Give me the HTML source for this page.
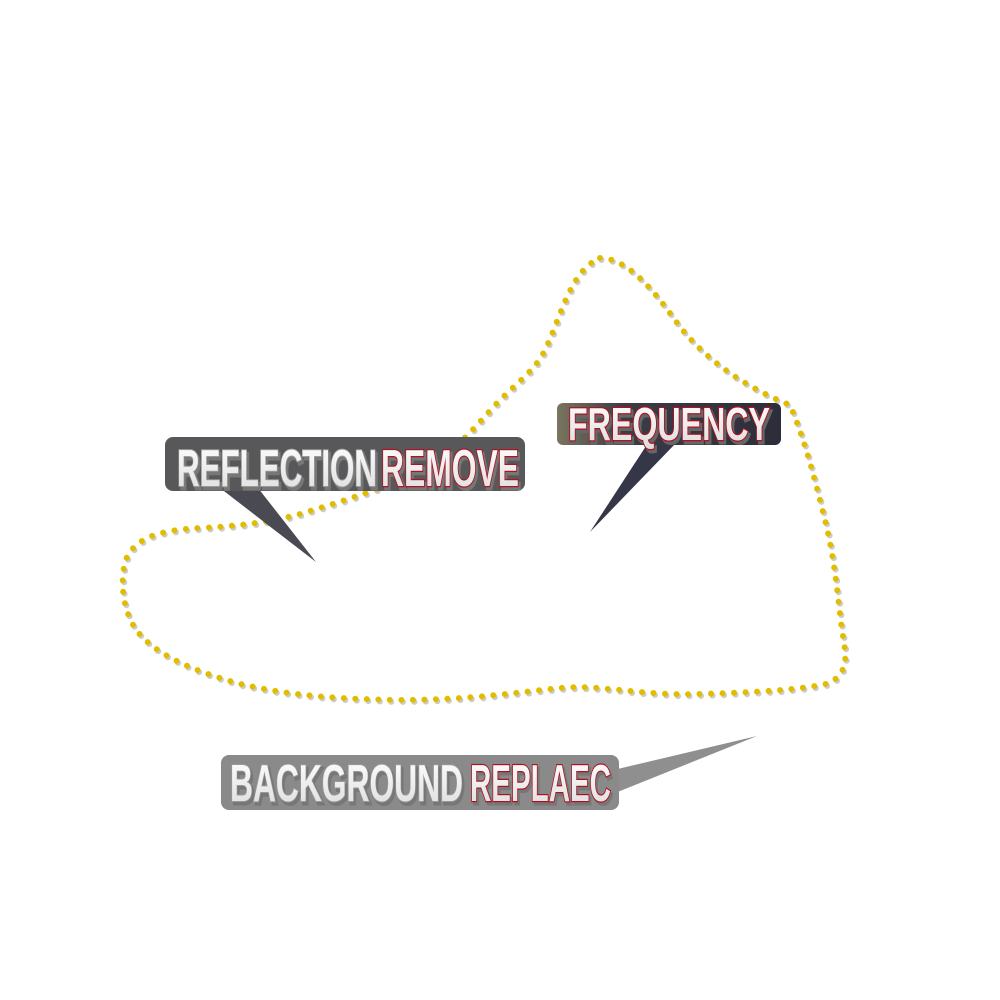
<!DOCTYPE html>
<html><head><meta charset="utf-8"><style>
html,body{margin:0;padding:0;background:#fff;}
svg{display:block}
text{font-family:"Liberation Sans",sans-serif;font-weight:bold;paint-order:stroke;}
</style></head><body>
<svg width="1000" height="1000" viewBox="0 0 1000 1000" xmlns="http://www.w3.org/2000/svg">
<defs>
<linearGradient id="g2" x1="0" x2="1" y1="0" y2="0">
<stop offset="0" stop-color="#7a7560"/><stop offset="0.3" stop-color="#3c3c44"/><stop offset="1" stop-color="#2c2d3a"/>
</linearGradient>
<linearGradient id="tx" x1="0" x2="0" y1="0" y2="1">
<stop offset="0" stop-color="#ffffff"/><stop offset="1" stop-color="#dcdcdc"/>
</linearGradient>
</defs>
<!-- dotted outline shadow -->
<path d="M600,258 C625,258 650,285 675,320 C700,355 740,385 790,405 C805,440 815,480 825,520 C835,560 838,600 842,630 C846,655 850,670 830,683 C800,690 760,692 700,694 C640,696 600,684 560,688 C520,692 470,700 400,700 C330,699 270,694 220,678 C180,665 150,650 135,628 C120,605 120,570 128,555 C140,535 165,530 200,528 C240,526 270,522 300,514 C340,502 380,490 420,470 C460,450 480,420 500,400 C520,380 535,370 545,350 C560,320 570,270 600,258 Z" fill="none" stroke="#ccc" stroke-width="6" stroke-linecap="round" stroke-dasharray="0 11.5" transform="translate(1.5,2)"/>
<path d="M600,258 C625,258 650,285 675,320 C700,355 740,385 790,405 C805,440 815,480 825,520 C835,560 838,600 842,630 C846,655 850,670 830,683 C800,690 760,692 700,694 C640,696 600,684 560,688 C520,692 470,700 400,700 C330,699 270,694 220,678 C180,665 150,650 135,628 C120,605 120,570 128,555 C140,535 165,530 200,528 C240,526 270,522 300,514 C340,502 380,490 420,470 C460,450 480,420 500,400 C520,380 535,370 545,350 C560,320 570,270 600,258 Z" fill="none" stroke="#e0bd00" stroke-width="6" stroke-linecap="round" stroke-dasharray="0 11.5"/>
<!-- bubble 1 -->
<polygon points="220,488 258,488 316,562" fill="#4a4a52"/>
<rect x="165" y="437" width="360" height="54" rx="8" fill="#58585a"/>
<text x="177" y="487" font-size="52" textLength="200" lengthAdjust="spacingAndGlyphs" fill="#777" stroke="#777" stroke-width="3" transform="translate(2,2)">REFLECTION</text>
<text x="177" y="486" font-size="52" textLength="200" lengthAdjust="spacingAndGlyphs" fill="url(#tx)" stroke="#999" stroke-width="2">REFLECTION</text>
<text x="381" y="487" font-size="52" textLength="138" lengthAdjust="spacingAndGlyphs" fill="#777" stroke="#777" stroke-width="3" transform="translate(2,2)">REMOVE</text>
<text x="381" y="486" font-size="52" textLength="138" lengthAdjust="spacingAndGlyphs" fill="url(#tx)" stroke="#b01020" stroke-width="2.5">REMOVE</text>
<!-- bubble 2 -->
<polygon points="648,443 676,443 590,532" fill="#353648"/>
<rect x="557" y="403" width="224" height="42" rx="6" fill="url(#g2)"/>
<text x="568" y="441" font-size="46" textLength="202" lengthAdjust="spacingAndGlyphs" fill="#666" stroke="#666" stroke-width="3" transform="translate(2,2)">FREQUENCY</text>
<text x="568" y="440" font-size="46" textLength="202" lengthAdjust="spacingAndGlyphs" fill="url(#tx)" stroke="#b01020" stroke-width="2.5">FREQUENCY</text>
<!-- bubble 3 -->
<polygon points="605,772 610,795 757,736" fill="#8f8f8f"/>
<rect x="221" y="755" width="398" height="55" rx="8" fill="#8a8a8a"/>
<text x="230" y="802" font-size="52" textLength="233" lengthAdjust="spacingAndGlyphs" fill="#777" stroke="#777" stroke-width="3" transform="translate(2,2)">BACKGROUND</text>
<text x="230" y="801" font-size="52" textLength="233" lengthAdjust="spacingAndGlyphs" fill="url(#tx)" stroke="#999" stroke-width="2">BACKGROUND</text>
<text x="470" y="802" font-size="52" textLength="141" lengthAdjust="spacingAndGlyphs" fill="#777" stroke="#777" stroke-width="3" transform="translate(2,2)">REPLAEC</text>
<text x="470" y="801" font-size="52" textLength="141" lengthAdjust="spacingAndGlyphs" fill="url(#tx)" stroke="#b01020" stroke-width="2.5">REPLAEC</text>
</svg>
</body></html>
